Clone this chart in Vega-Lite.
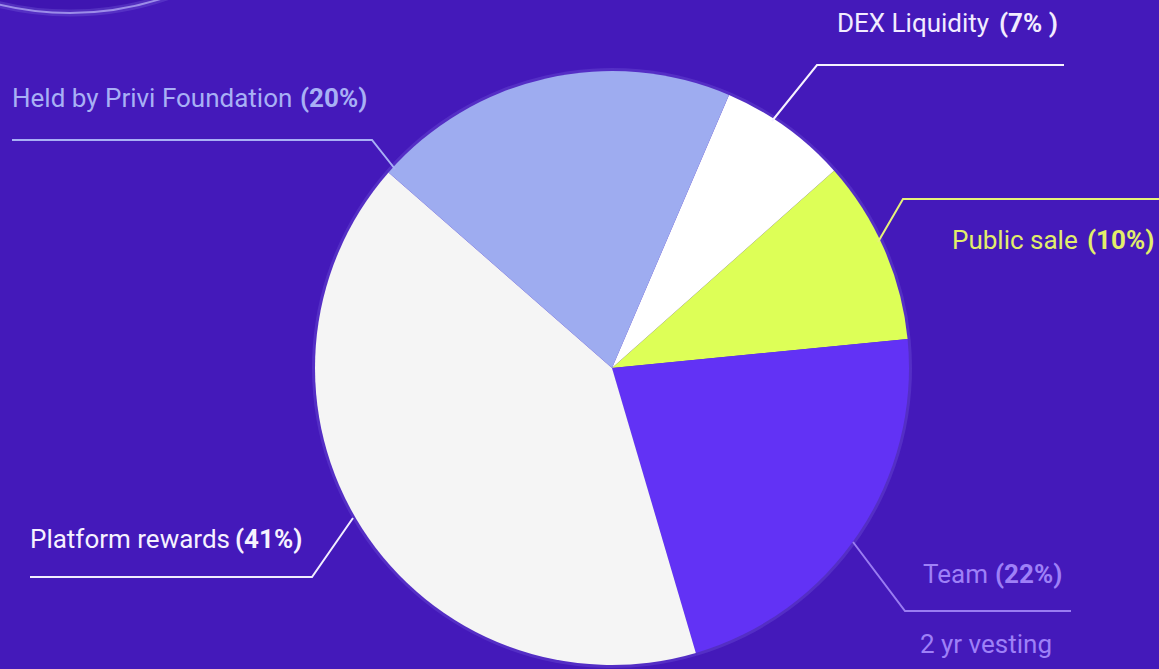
{
  "$schema": "https://vega.github.io/schema/vega-lite/v6.json",
  "width": 1159,
  "height": 669,
  "padding": 0,
  "autosize": {"type": "none"},
  "background": "#4419BA",
  "config": {"view": {"stroke": null}},
  "datasets": {
    "slices": [
      {"slice": "DEX Liquidity", "share": 7, "order": 1},
      {"slice": "Public sale", "share": 10, "order": 2},
      {"slice": "Team", "share": 22, "order": 3},
      {"slice": "Platform rewards", "share": 41, "order": 4},
      {"slice": "Held by Privi Foundation", "share": 20, "order": 5}
    ],
    "labels": [
      {"slice": "Held by Privi Foundation", "part": "name", "text": "Held by Privi Foundation", "x": 12, "y": 107},
      {"slice": "Held by Privi Foundation", "part": "share", "text": "(20%)", "x": 300, "y": 107},
      {"slice": "DEX Liquidity", "part": "name", "text": "DEX Liquidity", "x": 837, "y": 32},
      {"slice": "DEX Liquidity", "part": "share", "text": "(7% )", "x": 999, "y": 32},
      {"slice": "Public sale", "part": "name", "text": "Public sale", "x": 952, "y": 249},
      {"slice": "Public sale", "part": "share", "text": "(10%)", "x": 1087, "y": 249},
      {"slice": "Platform rewards", "part": "name", "text": "Platform rewards", "x": 30, "y": 548},
      {"slice": "Platform rewards", "part": "share", "text": "(41%)", "x": 235, "y": 548},
      {"slice": "Team", "part": "name", "text": "Team", "x": 923, "y": 583},
      {"slice": "Team", "part": "share", "text": "(22%)", "x": 995, "y": 583},
      {"slice": "Team", "part": "name", "text": "2 yr vesting", "x": 920, "y": 653}
    ],
    "leaders": [
      {"slice": "Held by Privi Foundation", "i": 1, "x": 12, "y": 140},
      {"slice": "Held by Privi Foundation", "i": 2, "x": 372, "y": 140},
      {"slice": "Held by Privi Foundation", "i": 3, "x": 395, "y": 169},
      {"slice": "DEX Liquidity", "i": 1, "x": 1064, "y": 65},
      {"slice": "DEX Liquidity", "i": 2, "x": 817, "y": 65},
      {"slice": "DEX Liquidity", "i": 3, "x": 772, "y": 121},
      {"slice": "Public sale", "i": 1, "x": 1159, "y": 199},
      {"slice": "Public sale", "i": 2, "x": 903, "y": 199},
      {"slice": "Public sale", "i": 3, "x": 878, "y": 242},
      {"slice": "Platform rewards", "i": 1, "x": 30, "y": 577},
      {"slice": "Platform rewards", "i": 2, "x": 312, "y": 577},
      {"slice": "Platform rewards", "i": 3, "x": 353, "y": 518},
      {"slice": "Team", "i": 1, "x": 853, "y": 542},
      {"slice": "Team", "i": 2, "x": 905, "y": 611},
      {"slice": "Team", "i": 3, "x": 1071, "y": 611}
    ]
  },
  "encoding": {
    "x": {"type": "quantitative", "scale": {"domain": [0, 1159], "nice": false, "zero": false}, "axis": null},
    "y": {"type": "quantitative", "scale": {"domain": [0, 669], "nice": false, "zero": false, "reverse": true}, "axis": null}
  },
  "layer": [
    {
      "data": {"values": [{"item": "ring"}]},
      "mark": {"type": "point", "shape": "circle", "size": 360000, "filled": true, "fill": "#3D14AE", "stroke": "#8C7BE6", "strokeWidth": 7, "strokeOpacity": 0.35},
      "encoding": {"x": {"datum": 70}, "y": {"datum": -287}}
    },
    {
      "data": {"values": [{"item": "ring"}]},
      "mark": {"type": "point", "shape": "circle", "size": 360000, "filled": false, "stroke": "#A597EE", "strokeWidth": 2, "opacity": 0.9},
      "encoding": {"x": {"datum": 70}, "y": {"datum": -287}}
    },
    {
      "data": {"name": "slices"},
      "mark": {"type": "arc", "outerRadius": 300, "fill": "#8D7CEB", "opacity": 0.22},
      "encoding": {
        "x": {"datum": 612},
        "y": {"datum": 368},
        "theta": {"field": "share", "type": "quantitative", "stack": true, "scale": {"range": [0.405, 6.688]}},
        "order": {"field": "order"}
      }
    },
    {
      "data": {"name": "slices"},
      "mark": {"type": "arc", "outerRadius": 297},
      "encoding": {
        "x": {"datum": 612},
        "y": {"datum": 368},
        "theta": {"field": "share", "type": "quantitative", "stack": true, "scale": {"range": [0.405, 6.688]}},
        "order": {"field": "order"},
        "fill": {
          "field": "slice", "type": "nominal", "legend": null,
          "scale": {
            "domain": ["DEX Liquidity", "Public sale", "Team", "Platform rewards", "Held by Privi Foundation"],
            "range": ["#FFFFFF", "#DDFF57", "#6232F5", "#F5F5F5", "#9EACF0"]
          }
        }
      }
    },
    {
      "data": {"name": "leaders"},
      "mark": {"type": "line", "strokeWidth": 2},
      "encoding": {
        "x": {"field": "x", "type": "quantitative"},
        "y": {"field": "y", "type": "quantitative"},
        "order": {"field": "i"},
        "detail": {"field": "slice"},
        "stroke": {
          "field": "slice", "type": "nominal", "legend": null,
          "scale": {
            "domain": ["DEX Liquidity", "Public sale", "Team", "Platform rewards", "Held by Privi Foundation"],
            "range": ["#F6F2FF", "#E6F27A", "#9A7CF2", "#F2EEFF", "#A8B0F5"]
          }
        }
      }
    },
    {
      "data": {"name": "labels"},
      "transform": [{"filter": "datum.part === 'name'"}],
      "mark": {"type": "text", "align": "left", "baseline": "alphabetic", "font": "Roboto", "fontSize": 26, "fontWeight": 400},
      "encoding": {
        "x": {"field": "x", "type": "quantitative"},
        "y": {"field": "y", "type": "quantitative"},
        "text": {"field": "text"},
        "color": {
          "field": "slice", "type": "nominal", "legend": null,
          "scale": {
            "domain": ["DEX Liquidity", "Public sale", "Team", "Platform rewards", "Held by Privi Foundation"],
            "range": ["#F2ECFF", "#E2EE6A", "#9E80F7", "#F6F2FF", "#A8B0F5"]
          }
        }
      }
    },
    {
      "data": {"name": "labels"},
      "transform": [{"filter": "datum.part === 'share'"}],
      "mark": {"type": "text", "align": "left", "baseline": "alphabetic", "font": "Roboto", "fontSize": 26, "fontWeight": 700},
      "encoding": {
        "x": {"field": "x", "type": "quantitative"},
        "y": {"field": "y", "type": "quantitative"},
        "text": {"field": "text"},
        "color": {
          "field": "slice", "type": "nominal", "legend": null,
          "scale": {
            "domain": ["DEX Liquidity", "Public sale", "Team", "Platform rewards", "Held by Privi Foundation"],
            "range": ["#F2ECFF", "#E2EE6A", "#9E80F7", "#F6F2FF", "#A8B0F5"]
          }
        }
      }
    }
  ]
}
